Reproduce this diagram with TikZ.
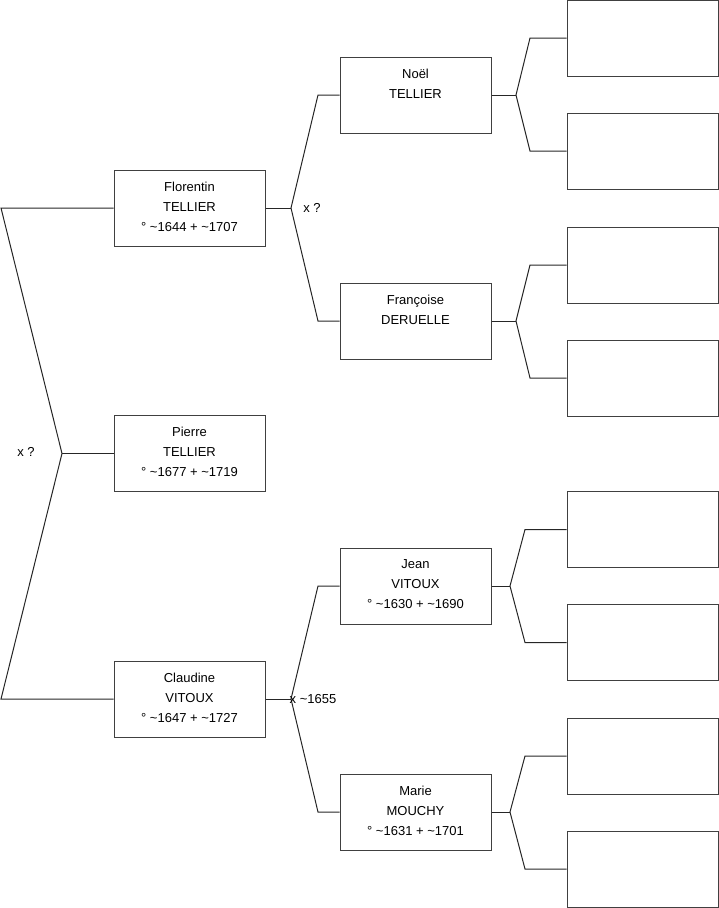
\documentclass[tikz,border=0pt]{standalone}
\usepackage{fontspec}
\setmainfont{Liberation Sans}
\begin{document}
\begin{tikzpicture}[x=1pt,y=-1pt,
  person/.style={draw=black!75,line width=1pt,minimum width=151pt,minimum height=76pt,inner sep=0pt,align=center,text depth=3pt,font=\fontsize{13}{20}\selectfont},
  link/.style={draw=black!85,line width=1pt},
  lbl/.style={font=\fontsize{13}{14}\selectfont,inner sep=0pt}]
\useasboundingbox (0,0) rectangle (719,908);
% persons
\node[person] (F) at (189.5,208) {Florentin\\TELLIER\\° \textasciitilde1644 + \textasciitilde1707};
\node[person] (P) at (189.5,453.5) {Pierre\\TELLIER\\° \textasciitilde1677 + \textasciitilde1719};
\node[person] (C) at (189.5,699) {Claudine\\VITOUX\\° \textasciitilde1647 + \textasciitilde1727};
\node[person] (N) at (415.5,95) {Noël\\TELLIER\\\strut};
\node[person] (Fr) at (415.5,321) {Françoise\\DERUELLE\\\strut};
\node[person] (J) at (415.5,586) {Jean\\VITOUX\\° \textasciitilde1630 + \textasciitilde1690};
\node[person] (M) at (415.5,812) {Marie\\MOUCHY\\° \textasciitilde1631 + \textasciitilde1701};
% empty ancestors
\node[person] (E1) at (642.5,38) {};
\node[person] (E2) at (642.5,151) {};
\node[person] (E3) at (642.5,265) {};
\node[person] (E4) at (642.5,378) {};
\node[person] (E5) at (642.5,529.5) {};
\node[person] (E6) at (642.5,642.5) {};
\node[person] (E7) at (642.5,756) {};
\node[person] (E8) at (642.5,869) {};
% left fork
\coordinate (lt) at (1,208);
\coordinate (lj) at (62,453.5);
\coordinate (lb) at (1,699);
\draw[link] (F.west) -- (lt) -- (lj) -- (lb) -- (C.west);
\draw[link] (lj) -- (P.west);
\node[lbl] (l1) at (26,452) {x ?};
% Florentin's parents
\coordinate (fj) at (291,208);
\coordinate (ft) at (318,95);
\coordinate (fb) at (318,321);
\draw[link] (F.east) -- (fj);
\draw[link] (N.west) -- (ft) -- (fj) -- (fb) -- (Fr.west);
\node[lbl] (l2) at (312,208) {x ?};
% Claudine's parents
\coordinate (cj) at (291,699);
\coordinate (ct) at (318,586);
\coordinate (cb) at (318,812);
\draw[link] (C.east) -- (cj);
\draw[link] (J.west) -- (ct) -- (cj) -- (cb) -- (M.west);
\node[lbl] (l3) at (313,699) {x \textasciitilde1655};
% Noël's parents
\coordinate (nj) at (516,95);
\coordinate (nt) at (530,38);
\coordinate (nb) at (530,151);
\draw[link] (N.east) -- (nj);
\draw[link] (E1.west) -- (nt) -- (nj) -- (nb) -- (E2.west);
% Françoise's parents
\coordinate (rj) at (516,321);
\coordinate (rt) at (530,265);
\coordinate (rb) at (530,378);
\draw[link] (Fr.east) -- (rj);
\draw[link] (E3.west) -- (rt) -- (rj) -- (rb) -- (E4.west);
% Jean's parents
\coordinate (jj) at (510,586);
\coordinate (jt) at (525,529.5);
\coordinate (jb) at (525,642.5);
\draw[link] (J.east) -- (jj);
\draw[link] (E5.west) -- (jt) -- (jj) -- (jb) -- (E6.west);
% Marie's parents
\coordinate (mj) at (510,812);
\coordinate (mt) at (525,756);
\coordinate (mb) at (525,869);
\draw[link] (M.east) -- (mj);
\draw[link] (E7.west) -- (mt) -- (mj) -- (mb) -- (E8.west);
\end{tikzpicture}
\end{document}
